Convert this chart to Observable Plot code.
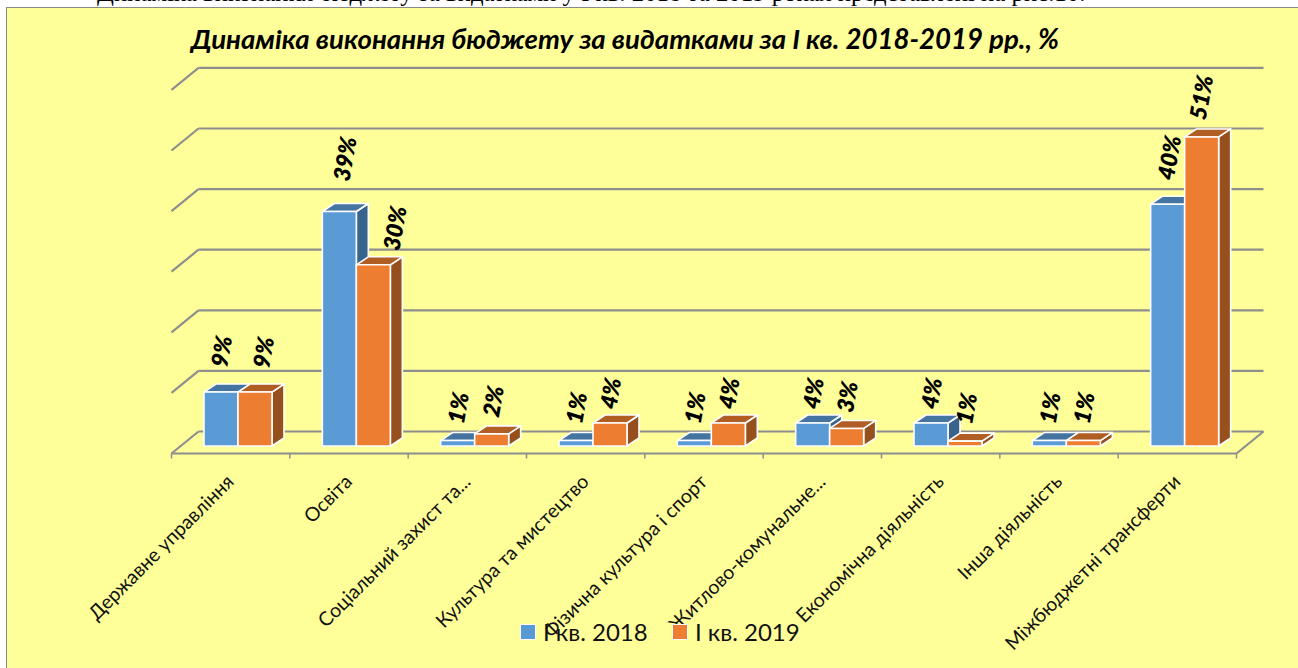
<!DOCTYPE html>
<html lang="uk"><head><meta charset="utf-8">
<script src="https://cdn.jsdelivr.net/npm/d3@7"></script>
<script src="https://cdn.jsdelivr.net/npm/@observablehq/plot@0.6"></script>
<style>
html,body{margin:0;padding:0;background:#fff;width:1298px;height:668px;overflow:hidden}
#wrap{position:relative;width:1298px;height:668px;overflow:hidden}
#top{position:absolute;left:97px;top:-21px;font:24.8px "Liberation Serif",serif;color:#000;white-space:nowrap}
#frame{position:absolute;left:6px;top:7px;width:1292px;height:661px;background:#FFFF99;border-left:1.5px solid #8a8a8a;border-top:1.5px solid #8a8a8a;box-sizing:border-box}
#title{position:absolute;left:191px;top:22px;font:italic bold 27.6px Lato,"Open Sans",sans-serif;white-space:nowrap;color:#000}
#chart{position:absolute;left:0;top:0}
#legend{position:absolute;left:0;top:0;width:1298px;height:668px;pointer-events:none;font:24px Lato,"Open Sans",sans-serif;color:#111}
#legend span{position:absolute;white-space:nowrap}
#legend i{position:absolute;width:14px;height:14px;top:625px;border:1px solid #fff;box-sizing:content-box;margin:-1px}
</style></head><body>
<div id="wrap">
<div id="top">Динаміка виконання бюджету за видатками у І кв. 2018 та 2019 роках представлені на рис.10.</div>
<div id="frame"></div>
<div id="chart"></div>
<div id="title">Динаміка виконання бюджету за видатками за І кв. 2018-2019 рр., %</div>
<div id="legend">
<i style="left:521px;background:#5B9BD5"></i><span style="left:543px;top:617px">І кв. 2018</span>
<i style="left:673px;background:#ED7D31"></i><span style="left:695px;top:617px">І кв. 2019</span>
</div>
</div>
<script>
const categories = ["Державне управління","Освіта","Соціальний захист та...","Культура та мистецтво","Фізична культура і спорт","Житлово-комунальне...","Економічна діяльність","Інша діяльність","Міжбюджетні трансферти"];
const q1_2018 = [8.9,38.7,0.9,0.9,0.9,3.8,3.8,0.9,39.9];
const q1_2019 = [8.9,29.9,2.0,3.8,3.8,2.9,0.8,0.9,51.0];
const yTicks = [0,10,20,30,40,50,60];

// projection constants, in scale units
const PX = 1065/9, PY = 6.06;
const ux = p => p/PX, uy = p => p/PY;
const barW = ux(34), barL = ux(33);
const depthX = ux(12), depthY = uy(8);
const wallX = ux(27), floorFront = uy(-7), floorBack = uy(15);

const series = [
  {name:"2018", values:q1_2018, off:barL,        front:"#5B9BD5", top:"#44749F", side:"#37638C"},
  {name:"2019", values:q1_2019, off:barL+barW,   front:"#ED7D31", top:"#B15E25", side:"#96501E"}
];
const barMarks = [];
categories.forEach((c,i) => {
  series.forEach(s => {
    const l = i+s.off, r = l+barW, v = s.values[i];
    const base = {stroke:"#fff", strokeWidth:1.6, strokeLinejoin:"round"};
    barMarks.push(
      Plot.areaY([{x:r,y1:0,y2:v},{x:r+depthX,y1:depthY,y2:v+depthY}],{x:"x",y1:"y1",y2:"y2",fill:s.side,...base}),
      Plot.areaX([{y:v,x1:l,x2:r},{y:v+depthY,x1:l+depthX,x2:r+depthX}],{y:"y",x1:"x1",x2:"x2",fill:s.top,...base}),
      Plot.rect([{x1:l,x2:r,y1:0,y2:v}],{x1:"x1",x2:"x2",y1:"y1",y2:"y2",fill:s.front,...base})
    );
  });
});

// hand-placed value labels in the original: nudges in pixels from the bar's top centre
const nudge2018 = [[1,-41],[6,-53],[1,-33],[1,-33],[1,-33],[1,-30],[1,-30],[1,-33],[2,-47]];
const nudge2019 = [[9,-40],[22,-37],[2,-33],[1,-30],[1,-30],[1,-32],[2,-33],[1,-33],[0,-40]];
const labelRows = [];
series.forEach((s,k) => s.values.forEach((v,i) => {
  const n = (k ? nudge2019 : nudge2018)[i];
  labelRows.push({x:i+s.off+barW/2+ux(n[0]), y:v+uy(-n[1]), t:Math.max(1,Math.round(v))+"%"});
}));

const floorTicks = d3.range(0,10);
const gridStroke = {stroke:"#8E8E8E",strokeWidth:2.2};
const plot = Plot.plot({
  width:1298, height:668,
  marginLeft:171, marginRight:62, marginTop:446-60*PY, marginBottom:222,
  style:{background:"transparent",overflow:"visible"},
  x:{domain:[0,9],axis:null},
  y:{domain:[0,60],axis:null},
  marks:[
    Plot.link(yTicks,{x1:wallX,x2:9+wallX,y1:d=>d+floorBack,y2:d=>d+floorBack,...gridStroke}),
    Plot.link(yTicks,{x1:0,x2:wallX,y1:d=>d+floorFront,y2:d=>d+floorBack,...gridStroke}),
    Plot.link([0],{x1:9,x2:9+wallX,y1:floorFront,y2:floorBack,...gridStroke}),
    Plot.link([0],{x1:0,x2:9,y1:floorFront,y2:floorFront,...gridStroke}),
    Plot.link(floorTicks,{x1:d=>d,x2:d=>d,y1:floorFront,y2:floorFront+uy(-5),stroke:"#8E8E8E",strokeWidth:1.5}),
    ...barMarks,
    Plot.text(labelRows,{x:"x",y:"y",text:"t",rotate:-80,fontSize:23,fontWeight:800,fontStyle:"italic",fontFamily:"Lato, 'Open Sans', sans-serif",fill:"#000"}),
    Plot.text(categories,{x:(d,i)=>i+.5,y:()=>uy(-32),text:d=>d,rotate:-45,textAnchor:"end",lineAnchor:"middle",fontSize:19.5,fontFamily:"Lato, 'Open Sans', sans-serif",fill:"#111"})
  ]
});
document.getElementById("chart").append(plot);
</script>
</body></html>
